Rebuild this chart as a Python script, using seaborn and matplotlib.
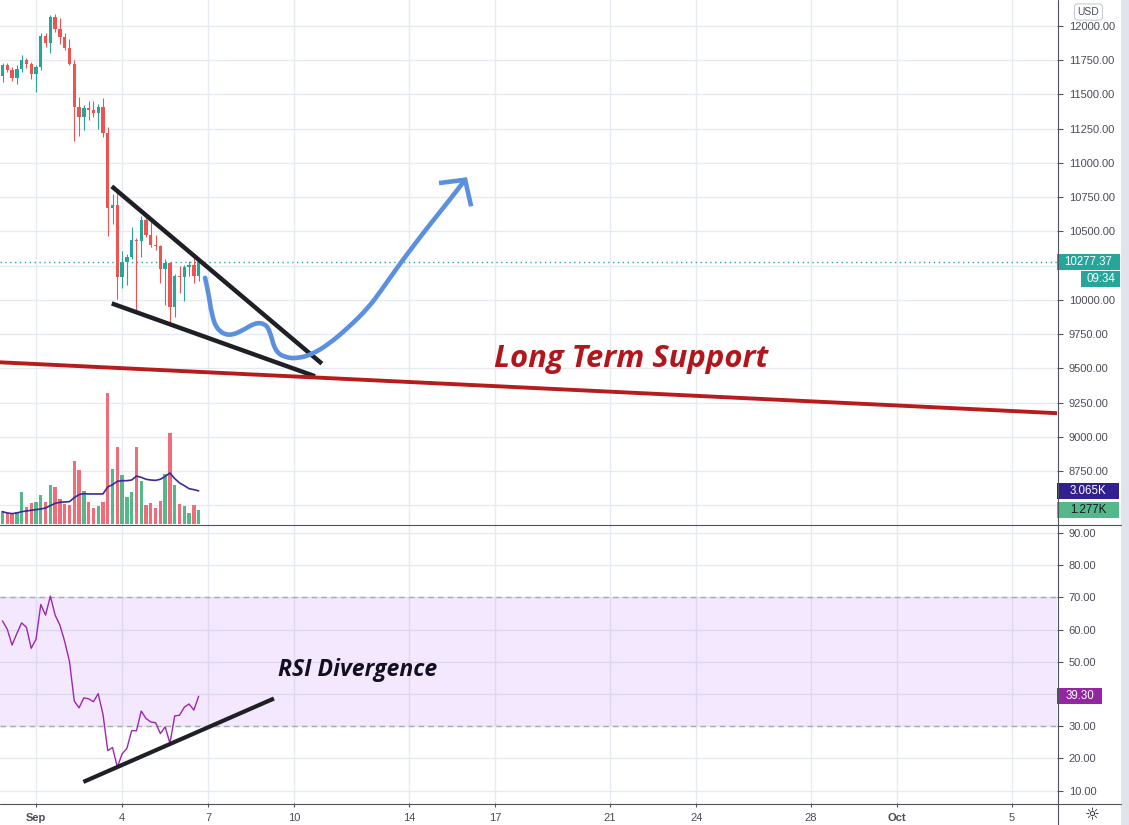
import numpy as np
import pandas as pd
import matplotlib
matplotlib.use('Agg')
import matplotlib.pyplot as plt
from matplotlib.lines import Line2D
from matplotlib.patches import Rectangle, PathPatch
from matplotlib.path import Path as MPath
import seaborn as sns

# BTC/USD 4h candles, 30 Aug 20:00 .. 6 Sep 16:00 (2020)
candle_time = pd.date_range('2020-08-30 20:00', periods=42, freq='4h')
opens = [11636, 11716, 11679, 11623, 11684, 11752, 11723, 11650, 11704, 11927, 11878, 12063, 11976, 11922,
         11837, 11723, 11407, 11339, 11400, 11388, 11363, 11407, 11218, 10671, 10695, 10165, 10275, 10311,
         10440, 10428, 10586, 10476, 10403, 10390, 10226, 10270, 9949, 10173, 10165, 10238, 10258, 10173]
highs = [11728, 11733, 11704, 11716, 11789, 11764, 11740, 11716, 11951, 11951, 12080, 12087, 12056, 11951,
         11903, 11752, 11485, 11424, 11453, 11453, 11431, 11473, 11266, 10775, 10780, 10360, 10338, 10532,
         10452, 10610, 10610, 10566, 10476, 10403, 10299, 10275, 10192, 10245, 10258, 10282, 10306, 10294]
lows = [11594, 11667, 11599, 11575, 11667, 11691, 11614, 11521, 11679, 11849, 11806, 11959, 11866, 11825,
        11716, 11157, 11198, 11242, 11315, 11339, 11249, 11193, 10464, 10554, 10003, 10088, 10105, 10299,
        9917, 10314, 10459, 10386, 10362, 10124, 9966, 9832, 9876, 10051, 9990, 10173, 10124, 10136]
closes = [11716, 11679, 11623, 11684, 11752, 11723, 11650, 11704, 11927, 11878, 12063, 11976, 11922, 11837,
          11723, 11407, 11339, 11400, 11388, 11363, 11407, 11218, 10671, 10695, 10165, 10275, 10311, 10440,
          10428, 10586, 10476, 10403, 10390, 10226, 10270, 9949, 10173, 10165, 10238, 10258, 10173, 10277.37]
last_price = 10277.37

# volume (thousands) and its moving average
volume_k = [1.23, 1.02, 0.93, 1.14, 2.99, 1.60, 1.98, 2.07, 2.72, 2.07, 3.64, 3.46, 2.35, 1.88, 1.79, 5.86,
            5.03, 3.09, 2.07, 1.51, 1.70, 2.07, 12.16, 5.12, 7.16, 4.57, 2.53, 2.99, 7.16, 4.01, 1.79, 1.98,
            1.51, 2.16, 4.66, 8.46, 3.64, 1.88, 1.70, 1.05, 1.79, 1.277]
volume_ma_k = [1.14, 1.02, 0.96, 1.02, 1.14, 1.20, 1.27, 1.33, 1.39, 1.48, 1.70, 1.91, 2.01, 2.04, 2.07, 2.44,
               2.72, 2.81, 2.78, 2.78, 2.78, 2.78, 3.43, 3.64, 3.95, 4.01, 4.01, 4.07, 4.44, 4.32, 4.14, 4.07,
               4.04, 4.14, 4.41, 4.72, 4.20, 3.80, 3.55, 3.27, 3.18, 3.065]

rsi = [62.7, 60.1, 55.2, 58.8, 62.1, 60.7, 54.2, 57.0, 67.8, 64.5, 70.4, 64.5, 61.4, 56.3, 50.1, 37.8, 35.7,
       38.8, 38.5, 37.6, 40.1, 33.7, 22.4, 23.4, 17.3, 21.4, 23.1, 28.6, 28.6, 34.7, 32.4, 31.3, 31.1, 27.7,
       29.8, 24.7, 33.2, 33.4, 35.9, 36.9, 35.0, 39.3]

tick_dates = ['2020-09-01', '2020-09-04', '2020-09-07', '2020-09-10', '2020-09-14', '2020-09-17',
              '2020-09-21', '2020-09-24', '2020-09-28', '2020-10-01', '2020-10-05']
tick_labels = ['Sep', '4', '7', '10', '14', '17', '21', '24', '28', 'Oct', '5']
price_ticks = np.arange(8500, 12001, 250)
rsi_ticks = np.arange(10, 91, 10)
hidden_price_labels = (8500, 10250)   # covered by the value tags
hidden_rsi_labels = (40,)

# hand drawn annotations (day offset from 1 Sep, price / rsi)
wedge_top_x, wedge_top_y = [2.64, 9.96], [10829, 9534]
wedge_bot_x, wedge_bot_y = [2.64, 9.72], [9974, 9442]
support_x, support_y = [-1.26, 35.6], [9544, 9172]
path_x = [5.89, 6.00, 6.12, 6.30, 6.70, 7.17, 7.63, 7.98, 8.15, 8.33, 8.68, 9.14, 9.61, 10.19, 10.88,
          11.58, 12.05, 12.74, 13.67, 14.37, 14.95]
path_y = [10161, 10063, 9893, 9784, 9735, 9772, 9833, 9826, 9772, 9626, 9578, 9573, 9602, 9675, 9797,
          9942, 10076, 10282, 10537, 10719, 10877]
arrow_x, arrow_y = [14.04, 14.95, 15.16], [10853, 10877, 10683]
div_x, div_y = [1.65, 8.29], [12.7, 38.6]

W, H = 1129, 825
GREEN, RED = '#26a69a', '#ef5350'
VGREEN, VRED = '#55b88a', '#ef6c78'
GRID = '#e6ebf1'
AXC = '#50535e'
LBL = '#4a4d57'

sns.set_theme(style='white')
plt.rcParams['font.family'] = ['Liberation Sans', 'DejaVu Sans']

start = pd.Timestamp('2020-09-01')
days = ((candle_time - start) / pd.Timedelta('1D')).to_numpy()
tick_days = [(pd.Timestamp(d) - start) / pd.Timedelta('1D') for d in tick_dates]
opens, highs, lows, closes = map(np.array, (opens, highs, lows, closes))
up = closes >= opens
bar_w = 0.7 / 6

fig = plt.figure(figsize=(W / 100, H / 100), dpi=100)
fig.patch.set_facecolor('white')
main_rect = [0, 1 - 524 / H, 1057 / W, 524 / H]
ax = fig.add_axes(main_rect)
ax_vol = fig.add_axes(main_rect, sharex=ax)
ax_rsi = fig.add_axes([0, 22 / H, 1057 / W, 279 / H], sharex=ax)
ax.set_zorder(1)
ax_vol.set_zorder(2)
ax_vol.patch.set_visible(False)

xlim = (-1.254, 35.57)
ax.set_xlim(*xlim)
ax.set_ylim(8363, 12190)
ax_vol.set_ylim(0, 48.5)
ax_rsi.set_ylim(6.15, 92.8)

# ---- price panel
ax.grid(True, color=GRID, lw=1)
ax.set_xticks(tick_days)
ax.set_yticks(price_ticks)
ax.yaxis.tick_right()
ax.yaxis.set_major_formatter(lambda v, p: '' if round(v) in hidden_price_labels else f'{v:.2f}')
ax.tick_params(axis='y', length=4, width=0.8, color=AXC, labelsize=8, labelcolor=LBL, pad=4.5, right=True)
ax.tick_params(axis='x', length=0, labelbottom=False)
for s in ax.spines.values():
    s.set_visible(False)

ax.vlines(days, lows, highs, colors=np.where(up, GREEN, RED), lw=0.8, zorder=3)
ax.bar(days, np.maximum(np.abs(closes - opens), 8), bottom=np.minimum(opens, closes), width=bar_w,
       color=np.where(up, GREEN, RED), lw=0, zorder=3)
ax.axhline(last_price, color=GREEN, lw=1, ls=(0, (1, 2.5)), zorder=2)

ax.plot(wedge_top_x, wedge_top_y, color='#1f2026', lw=3.2, solid_capstyle='butt', zorder=5)
ax.plot(wedge_bot_x, wedge_bot_y, color='#1f2026', lw=3.2, solid_capstyle='butt', zorder=5)
ax.plot(support_x, support_y, color='#b71c1c', lw=2.8, zorder=5, clip_on=True)

verts = [(path_x[0], path_y[0])]
codes = [MPath.MOVETO]
for i in range(1, len(path_x) - 1):
    verts += [(path_x[i], path_y[i]), ((path_x[i] + path_x[i + 1]) / 2, (path_y[i] + path_y[i + 1]) / 2)]
    codes += [MPath.CURVE3, MPath.CURVE3]
verts.append((path_x[-1], path_y[-1]))
codes.append(MPath.LINETO)
ax.add_patch(PathPatch(MPath(verts, codes), fill=False, ec='#5b8fdf', lw=3.3, capstyle='round',
                       joinstyle='round', zorder=6))
ax.plot(arrow_x, arrow_y, color='#5b8fdf', lw=3.3, solid_joinstyle='miter', solid_capstyle='butt', zorder=6)

ax.text(20.73, 9565, 'Long Term Support', color='#b2161d', fontsize=22.3, fontweight='bold',
        fontstyle='italic', family=['Open Sans', 'DejaVu Sans'], ha='center', va='center', zorder=6)

ax.text(1088.5 / 1057, 1 - 12 / 524, 'USD', transform=ax.transAxes, fontsize=7.5, color=LBL,
        ha='center', va='center', zorder=8,
        bbox=dict(boxstyle='round,pad=0.3,rounding_size=0.3', fc='white', ec='#c9ccd4', lw=0.8))

# ---- volume overlay
ax_vol.bar(days, volume_k, width=bar_w, color=np.where(up, VGREEN, VRED), lw=0)
sns.lineplot(x=days, y=volume_ma_k, ax=ax_vol, color='#3b2a9a', lw=1.2)
ax_vol.axis('off')

# ---- RSI panel
ax_rsi.grid(True, color=GRID, lw=1)
ax_rsi.axhspan(30, 70, color='#b266f2', alpha=0.15, lw=0, zorder=1)
for lvl in (30, 70):
    ax_rsi.axhline(lvl, color='#a9a9b3', lw=1, ls=(0, (4, 3)), zorder=2)
sns.lineplot(x=days, y=rsi, ax=ax_rsi, color='#9c27b0', lw=1, zorder=3)
ax_rsi.plot(div_x, div_y, color='#1f2026', lw=3, solid_capstyle='butt', zorder=5)
ax_rsi.text(11.22, 47.6, 'RSI Divergence', color='#140f1e', fontsize=16.6, fontweight='bold',
            fontstyle='italic', family=['Open Sans', 'DejaVu Sans'], ha='center', va='center', zorder=6)
ax_rsi.set_yticks(rsi_ticks)
ax_rsi.yaxis.tick_right()
ax_rsi.yaxis.set_major_formatter(lambda v, p: '' if round(v) in hidden_rsi_labels else f'{v:.2f}')
ax_rsi.tick_params(axis='y', length=4, width=0.8, color=AXC, labelsize=8, labelcolor=LBL, pad=4.5, right=True)
ax_rsi.set_xticks(tick_days)
ax_rsi.set_xticklabels(tick_labels)
ax_rsi.tick_params(axis='x', length=3, width=0.8, color=AXC, labelsize=8, labelcolor=LBL, pad=4, bottom=True)
for lab in ax_rsi.get_xticklabels():
    if lab.get_text() in ('Sep', 'Oct'):
        lab.set_fontweight('bold')
for s in ax_rsi.spines.values():
    s.set_visible(False)
ax_rsi.set_xlim(*xlim)
ax_rsi.set_xlabel('')
ax_rsi.set_ylabel('')


# ---- price tags on the right scale
def tag(axis, value, text, fc, tc, left=1057, right=1120, dy=0):
    y = axis.transData.transform((0, value))[1] - dy
    fig.add_artist(Rectangle((left / W, (y - 8) / H), (right - left) / W, 16 / H, transform=fig.transFigure,
                             fc=fc, ec='none', zorder=10))
    fig.text((left + right) / 2 / W, y / H, text, color=tc, fontsize=8.3, ha='center', va='center', zorder=11)


tag(ax, last_price, f'{last_price:.2f}', GREEN, 'white')
tag(ax, last_price, '09:34', GREEN, 'white', left=1081, dy=17)
tag(ax_vol, volume_ma_k[-1], f'{volume_ma_k[-1]:.3f}K', '#32208f', 'white', right=1119)
tag(ax_vol, volume_k[-1], f'{volume_k[-1]:.3f}K', VGREEN, '#131722', right=1119)
tag(ax_rsi, rsi[-1], f'{rsi[-1]:.2f}', '#9426a4', 'white', right=1102)

# ---- frame lines, scale strip, settings icon
fig.add_artist(Rectangle((1121 / W, 0), 8 / W, 1, transform=fig.transFigure, fc='#e0e3eb', ec='none', zorder=9))
fig.add_artist(Line2D([1057.5 / W] * 2, [0, 1], transform=fig.transFigure, color=AXC, lw=0.8, zorder=12))
for yp in (524.5, 803.5):
    fig.add_artist(Line2D([0, 1121 / W], [1 - yp / H] * 2, transform=fig.transFigure, color=AXC, lw=0.8,
                          zorder=12))
fig.text(1092 / W, 1 - 815 / H, '\u263c', fontsize=12, color='#131722', ha='center', va='center',
         family='DejaVu Sans', zorder=12)

fig.savefig('out.png', dpi=100)
plt.close(fig)
